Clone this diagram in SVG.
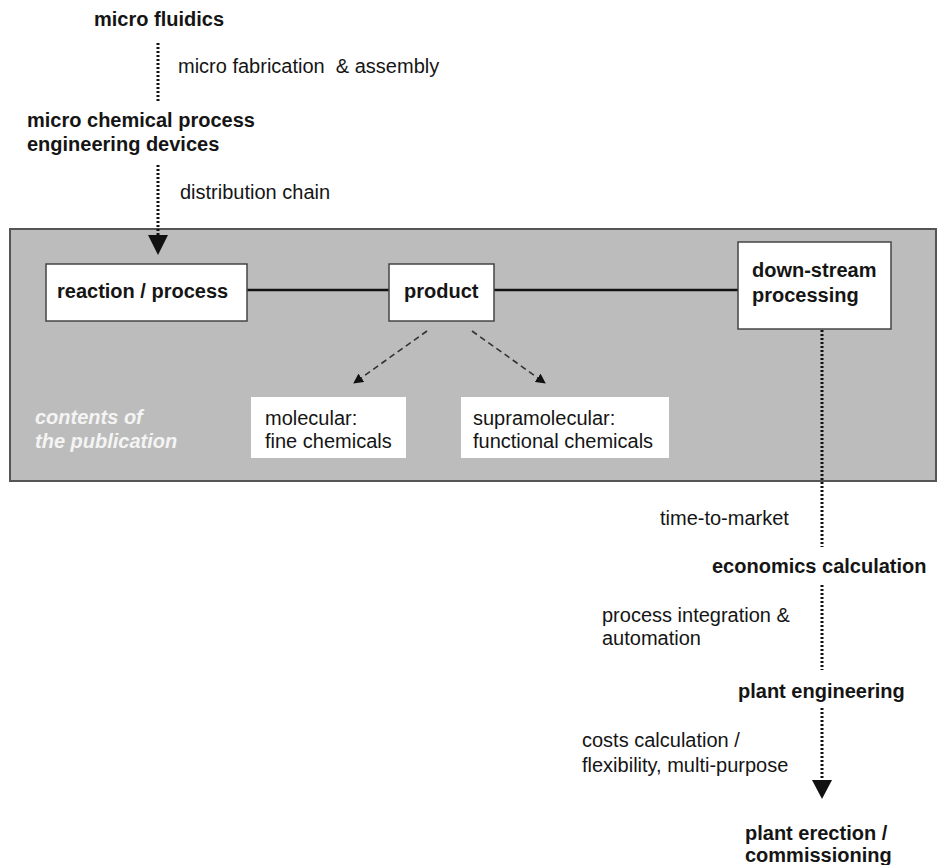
<svg xmlns="http://www.w3.org/2000/svg" width="937" height="865" viewBox="0 0 937 865">
<style>
text{font-family:"Liberation Sans",Arial,sans-serif;font-size:20px;fill:#151515}
.b{font-weight:bold}
.w{fill:#f4f4f4;font-weight:bold;font-style:italic}
.box{fill:#fff;stroke:#444;stroke-width:1.5}
.plain{fill:#fff}
.dot{stroke:#111;stroke-width:3;stroke-dasharray:2 2;fill:none}
.solid{stroke:#111;stroke-width:2.5;fill:none}
.dash{stroke:#333;stroke-width:1.6;stroke-dasharray:6 4;fill:none}
</style>
<defs>
<marker id="sm" viewBox="0 0 10 10" refX="9" refY="5" markerWidth="10" markerHeight="10" markerUnits="userSpaceOnUse" orient="auto"><path d="M0,0 L10,5 L0,10 z" fill="#111"/></marker>
</defs>
<rect id="panel" x="10" y="229" width="926" height="252" fill="#bcbcbc" stroke="#555" stroke-width="2"/>
<g id="connectors">
<line class="dot" x1="158" y1="43" x2="158" y2="101"/>
<line class="dot" x1="158" y1="165" x2="158" y2="236"/>
<path d="M148,235 L168,235 L158,255 z" fill="#111"/>
<line class="solid" x1="247" y1="290" x2="389" y2="290"/>
<line class="solid" x1="494" y1="290" x2="738" y2="290"/>
<line class="dash" x1="427" y1="331" x2="354" y2="383" marker-end="url(#sm)"/>
<line class="dash" x1="472" y1="331" x2="545" y2="383" marker-end="url(#sm)"/>
<line class="dot" x1="822" y1="330" x2="822" y2="547"/>
<line class="dot" x1="822" y1="585" x2="822" y2="670"/>
<line class="dot" x1="822" y1="708" x2="822" y2="781"/>
<path d="M812,780 L832,780 L822,799 z" fill="#111"/>
</g>
<g id="micro-fluidics"><text class="b" x="94" y="26">micro fluidics</text></g>
<g id="label-fab"><text x="178" y="73" xml:space="preserve">micro fabrication  &amp; assembly</text></g>
<g id="devices"><text class="b" x="27" y="127">micro chemical process</text><text class="b" x="27" y="151">engineering devices</text></g>
<g id="label-dist"><text x="180" y="199">distribution chain</text></g>
<g id="reaction"><rect class="box" x="46" y="264" width="201" height="57"/><text class="b" x="57" y="298">reaction / process</text></g>
<g id="product"><rect class="box" x="389" y="264" width="105" height="57"/><text class="b" x="404" y="298">product</text></g>
<g id="downstream"><rect class="box" x="738" y="242" width="153" height="87"/><text class="b" x="752" y="277">down-stream</text><text class="b" x="752" y="302">processing</text></g>
<g id="molecular"><rect class="plain" x="251" y="397" width="155" height="61"/><text x="265" y="425">molecular:</text><text x="265" y="448">fine chemicals</text></g>
<g id="supramolecular"><rect class="plain" x="461" y="397" width="208" height="61"/><text x="473" y="425">supramolecular:</text><text x="473" y="448">functional chemicals</text></g>
<g id="contents"><text class="w" x="35" y="424">contents of</text><text class="w" x="35" y="448">the publication</text></g>
<g id="label-ttm"><text x="660" y="525">time-to-market</text></g>
<g id="economics"><text class="b" x="712" y="573">economics calculation</text></g>
<g id="label-integration"><text x="602" y="622">process integration &amp;</text><text x="602" y="645">automation</text></g>
<g id="plant-engineering"><text class="b" x="738" y="698">plant engineering</text></g>
<g id="label-costs"><text x="582" y="747">costs calculation /</text><text x="582" y="772">flexibility, multi-purpose</text></g>
<g id="erection"><text class="b" x="745" y="840">plant erection /</text><text class="b" x="745" y="862">commissioning</text></g>
</svg>
